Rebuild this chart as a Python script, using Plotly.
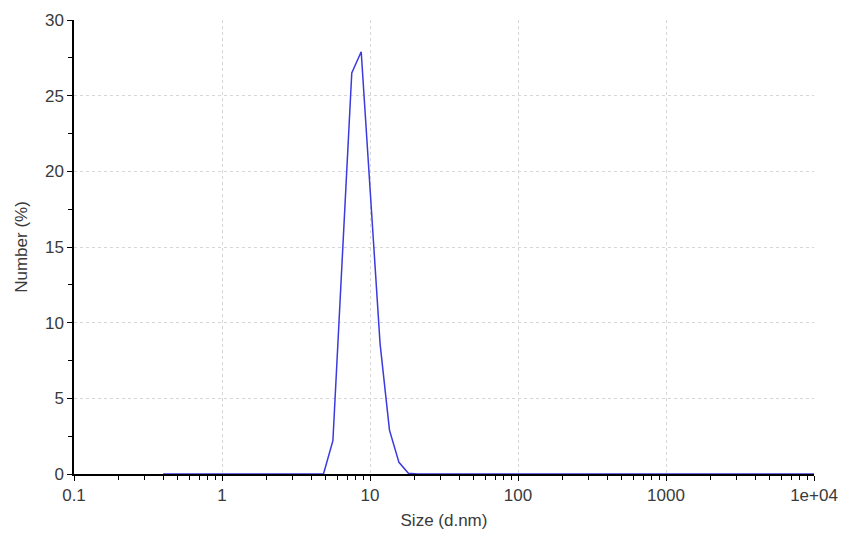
import plotly.graph_objects as go

# Size bins (d.nm) and number distribution (%)
sizes = [0.4, 0.4632, 0.5365, 0.6213, 0.7195, 0.8332, 0.9649, 1.117, 1.294, 1.499,
         1.736, 2.01, 2.328, 2.696, 3.122, 3.615, 4.187, 4.849, 5.615, 6.503,
         7.531, 8.721, 10.1, 11.7, 13.54, 15.69, 18.17, 21.04, 24.36, 28.21,
         32.67, 37.84, 43.82, 50.75, 58.77, 68.06, 78.82, 91.28, 105.7, 122.4,
         141.8, 164.2, 190.1, 220.2, 255.0, 295.3, 342.0, 396.1, 458.7, 531.2,
         615.1, 712.4, 825.0, 955.4, 1106, 1281, 1484, 1718, 1990, 2305,
         2669, 3091, 3580, 4145, 4801, 5560, 6439, 7456, 8635, 10000]
number_pct = [0] * 17 + [0, 2.2, 14.4, 26.5, 27.9, 18.2, 8.6, 2.9, 0.77, 0.05, 0] + [0] * 42

x_tickvals = [0.1, 1, 10, 100, 1000, 10000]
x_ticktext = ["0.1", "1", "10", "100", "1000", "1e+04"]
y_tickvals = [0, 5, 10, 15, 20, 25, 30]

fig = go.Figure()
fig.add_trace(go.Scatter(x=sizes, y=number_pct, mode="lines",
                         line=dict(color="#3a3ae0", width=1.5), showlegend=False))

tick_font = dict(family="Liberation Sans, Arial, sans-serif", size=17, color="#3a3a3a")
title_font = dict(family="Liberation Sans, Arial, sans-serif", size=17, color="#3a3a3a")
fig.update_layout(
    width=844, height=533,
    margin=dict(l=74, r=30, t=20, b=59),
    paper_bgcolor="white", plot_bgcolor="white",
    font=tick_font,
)
fig.update_xaxes(
    type="log", range=[-1, 4], automargin=False,
    tickvals=x_tickvals, ticktext=x_ticktext, tickfont=tick_font,
    showline=True, linecolor="black", linewidth=1.5,
    ticks="outside", ticklen=5, tickcolor="black",
    showgrid=True, gridcolor="#d6d6d6", griddash="dot", gridwidth=1,
    minor=dict(ticks="outside", ticklen=4, tickcolor="black", dtick="D1", showgrid=False),
    zeroline=False,
    title=dict(text="Size (d.nm)", font=title_font, standoff=10),
)
fig.update_yaxes(
    range=[0, 30], tickvals=y_tickvals, automargin=False, tickfont=tick_font,
    showline=True, linecolor="black", linewidth=1.5,
    ticks="outside", ticklen=5, tickcolor="black",
    showgrid=True, gridcolor="#d6d6d6", griddash="dot", gridwidth=1,
    minor=dict(ticks="outside", ticklen=4, tickcolor="black", dtick=2.5, showgrid=False),
    zeroline=False,
    title=dict(text="Number (%)", font=title_font, standoff=13),
)

fig.write_html("out.html", config={"displayModeBar": False},
               post_script="document.body.style.margin='0';")
